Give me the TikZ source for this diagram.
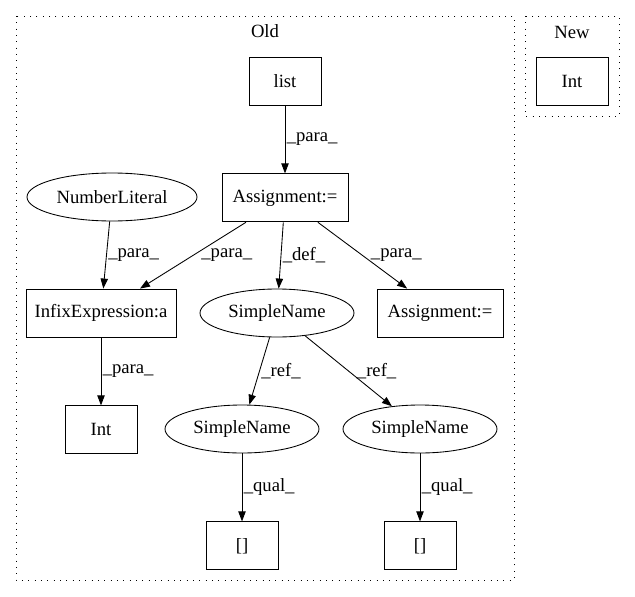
\documentclass[tikz,border=0pt]{standalone}
\usepackage{fontspec}
\setmainfont{Liberation Serif}
\usetikzlibrary{arrows.meta, shapes.geometric, positioning}

\begin{document}
\begin{tikzpicture}
  [x=0.75pt, y=-0.75pt,
   font=\fontsize{14pt}{16pt}\selectfont,
   box/.style={rectangle, draw, line width=0.65pt, inner sep=0pt,
               minimum width=54pt, minimum height=36pt},
   oval/.style={ellipse, draw, line width=0.65pt, inner sep=0pt,
                minimum width=115.5pt, minimum height=36pt},
   cluster/.style={draw, line width=0.75pt, dash pattern=on 0.75pt off 4pt},
   link/.style={draw, line width=0.65pt,
                -{Triangle[length=7.5pt, width=5.5pt]}},
   lbl/.style={midway, right, inner sep=1pt}]
   \useasboundingbox (0,0) rectangle (635,596);
   % clusters
   \draw[cluster] (16,16) rectangle (514,580);
   \draw[cluster] (525,16) rectangle (619,116);
   \node (old label) at (265,31) {Old};
   \node (new label) at (572,32) {New};
   % old
   \node[box]                       (list)      at (285,81)        {list};
   \node[box, minimum width=94.5pt] (assign)    [below=51pt of list] {Assignment:=};
   \node[oval, minimum width=127.5pt] (numlit)  at (112,197)       {NumberLiteral};
   \node[box, minimum width=112.5pt] (infix)    at (101,313)       {InfixExpression:a};
   \node[oval]                      (defname)   at (277,313)       {SimpleName};
   \node[box, minimum width=94.5pt] (assign2)   at (440,313)       {Assignment:=};
   \node[box]                       (int)       [below=51pt of infix] {Int};
   \node[oval]                      (refleft)   at (242,429)       {SimpleName};
   \node[oval]                      (refright)  at (420,429)       {SimpleName};
   \node[box]                       (subleft)   [below=51pt of refleft]  {[]};
   \node[box]                       (subright)  [below=51pt of refright] {[]};
   % new
   \node[box]                       (newint)    at (572,81)        {Int};
   % connectors
   \draw[link] (list) -- (assign) node[lbl] {\_para\_};
   \draw[link] (numlit) -- (infix) node[lbl] {\_para\_};
   \draw[link] (assign) -- (infix) node[lbl, xshift=5pt] {\_para\_};
   \draw[link] (assign) -- (defname) node[lbl] {\_def\_};
   \draw[link] (assign) -- (assign2) node[lbl, xshift=5pt] {\_para\_};
   \draw[link] (infix) -- (int) node[lbl] {\_para\_};
   \draw[link] (defname) -- (refleft) node[lbl] {\_ref\_};
   \draw[link] (defname) -- (refright) node[lbl, xshift=5pt] {\_ref\_};
   \draw[link] (refleft) -- (subleft) node[lbl] {\_qual\_};
   \draw[link] (refright) -- (subright) node[lbl] {\_qual\_};
\end{tikzpicture}
\end{document}
